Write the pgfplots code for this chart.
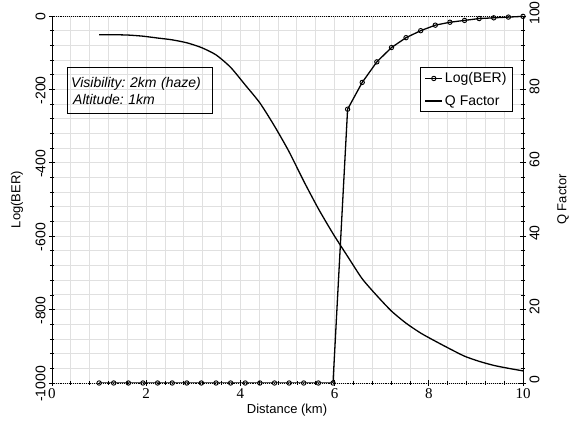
\documentclass[border=0pt]{standalone}
\usepackage{fontspec}
\setmainfont{Liberation Sans}
\newfontfamily\tnr{Liberation Serif}
\usepackage{pgfplots}
\usepackage{pgfplotstable}
\pgfplotsset{compat=1.18}

\pgfplotstableread{
x ber q
1.000 -1000 94.9
1.310 -1000 94.9
1.621 -1000 94.8
1.931 -1000 94.5
2.241 -1000 94.0
2.552 -1000 93.5
2.862 -1000 92.7
3.172 -1000 91.4
3.483 -1000 89.4
3.793 -1000 86.0
4.103 -1000 81.2
4.414 -1000 76.3
4.724 -1000 70.0
5.034 -1000 63.0
5.345 -1000 55.0
5.655 -1000 47.5
5.966 -1000 40.7
6.276 -254 34.5
6.586 -181 28.4
6.897 -125 23.8
7.207 -86 19.6
7.517 -59 16.3
7.828 -40 13.6
8.138 -25 11.4
8.448 -17 9.3
8.759 -12 7.3
9.069 -7 5.9
9.379 -5 4.8
9.690 -3 4.0
10.000 -1 3.3
}\data

\begin{document}
\frenchspacing
\begin{tikzpicture}
\begin{axis}[
  at={(0pt,0pt)}, anchor=south west,
  scale only axis, width=471pt, height=367pt,
  xmin=0, xmax=10, ymin=-1000, ymax=0,
  separate axis lines,
  axis x line=box, axis y line*=left,
  every outer x axis line/.append style={densely dotted, line width=0.9pt},
  every outer y axis line/.append style={line width=0.9pt},
  xtick={0,2,...,10}, xticklabels={0,2,4,6,8,10},
  ytick={-1000,-800,...,0}, yticklabels={-1000,-800,-600,-400,-200,0},
  minor x tick num=4, minor y tick num=4,
  xtick pos=left, ytick pos=left,
  tick align=center, major tick length=6pt, minor tick length=4pt,
  tick style={black, line width=0.8pt},
  grid=both,
  major grid style={color=black!12, line width=0.9pt},
  minor grid style={color=black!12, line width=0.9pt},
  xticklabel style={font=\fontsize{15}{16}\selectfont\tnr, yshift=1pt},
  yticklabel style={font=\fontsize{14}{16}\selectfont, rotate=90, anchor=south, xshift=-1pt},
  xlabel={Distance (km)},
  ylabel={Log(BER)},
  xlabel style={font=\fontsize{13}{15}\selectfont, at={(axis description cs:0.499,-0.073)}, anchor=center},
  ylabel style={font=\fontsize{13}{15}\selectfont, at={(axis description cs:-0.0743,0.5)}, anchor=center},
  legend style={at={(rel axis cs:0.979,0.861)}, anchor=north east, draw=black, line width=1.3pt,
    font=\fontsize{14}{16}\selectfont, cells={anchor=west}, inner xsep=4pt, inner ysep=3pt, row sep=7pt},
  legend cell align=left,
]
\addplot[black, line width=1.3pt, mark=o, mark size=2.2pt, mark options={fill=white, line width=0.9pt}] table[x=x, y=ber] {\data};
\addlegendentry{Log(BER)}
\addlegendimage{black, line width=1.3pt}
\addlegendentry{Q Factor}
\node[draw=black, line width=1.3pt, anchor=north west, align=left, inner sep=3pt,
  font=\fontsize{14}{17}\selectfont\itshape, minimum width=145pt, minimum height=46pt, text width=138pt]
  at (axis cs:0.32,-139) {Visibility: 2km (haze)\\\hspace*{2pt}Altitude: 1km};
\end{axis}
\begin{axis}[
  at={(0pt,0pt)}, anchor=south west,
  scale only axis, width=471pt, height=367pt,
  xmin=0, xmax=10, ymin=0, ymax=100,
  axis x line=none, axis y line*=right,
  axis line style={line width=0.9pt},
  ytick={0,20,...,100}, yticklabels={0,20,40,60,80,100}, minor y tick num=4,
  tick align=center, major tick length=6pt, minor tick length=4pt,
  tick style={black, line width=0.8pt},
  yticklabel style={font=\fontsize{14}{16}\selectfont, rotate=90, anchor=north, xshift=3pt},
]
\addplot[black, line width=1.3pt, smooth, tension=0.4] table[x=x, y=q] {\data};
\end{axis}
\node[rotate=90, font=\fontsize{13}{15}\selectfont, anchor=center] at (511pt,183.5pt) {Q Factor};
\pgfresetboundingbox
\path (-52pt,-40pt) rectangle (522pt,383pt);
\end{tikzpicture}
\end{document}
